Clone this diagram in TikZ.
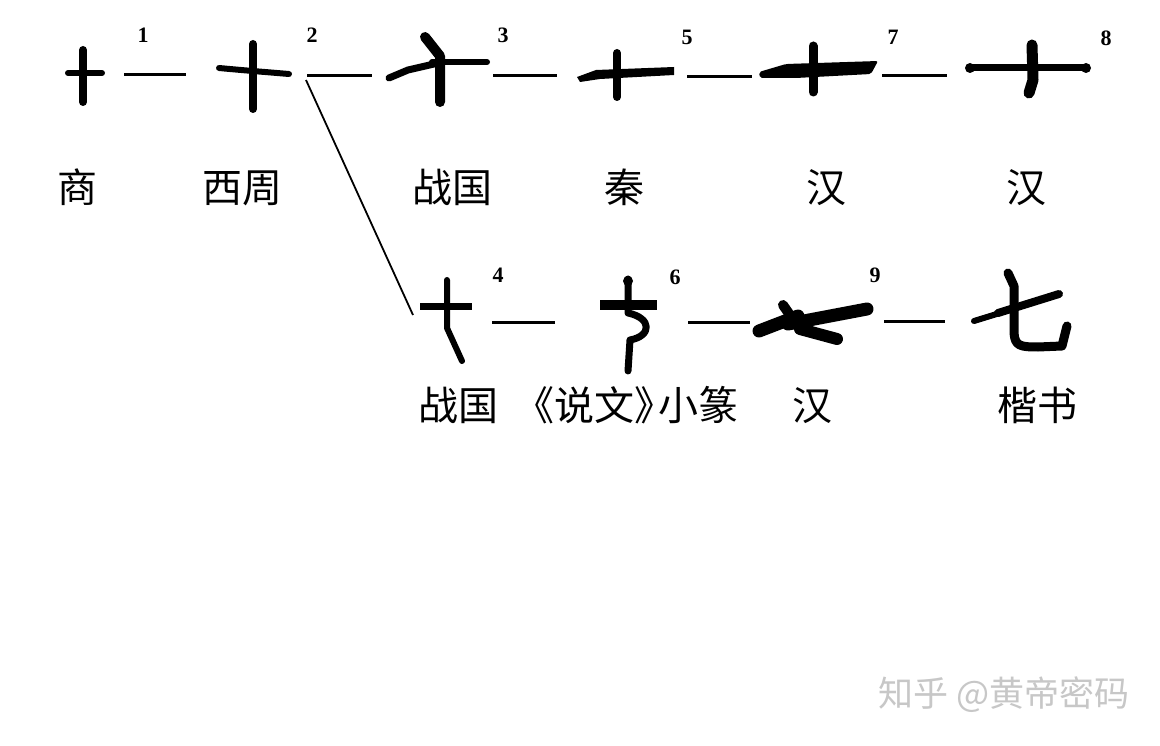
\documentclass[tikz,border=0pt]{standalone}
\usepackage{fontspec}
\setmainfont{Liberation Serif}
\newfontfamily\cjk{Noto Sans CJK SC}
\begin{document}
\begin{tikzpicture}[x=1pt,y=-1pt,
  brush/.style={line width=7pt,line cap=round,line join=round},
  dashline/.style={line width=3pt},
  branch/.style={line width=1.8pt},
  lbl/.style={font=\cjk\fontsize{40}{44}\selectfont,anchor=base,inner sep=0pt},
  num/.style={font=\fontsize{22}{24}\selectfont\bfseries,anchor=base,inner sep=0pt},
  wm/.style={font=\cjk\fontsize{35}{38}\selectfont,anchor=west,inner sep=0pt,text=black!22}]
\useasboundingbox (0,0) rectangle (1160,746);
\fill[white] (0,0) rectangle (1160,746);

% ---- row 1 glyphs ----
% 1 Shang
\draw[brush,line width=8pt] (83,50) -- (83,102);
\draw[brush,line width=6pt] (68,73) -- (102,73);
% 2 Western Zhou
\draw[brush,line width=8pt] (253,44) -- (253,109);
\draw[brush,line width=6pt] (219,68) .. controls (240,70) and (265,72) .. (289,74);
% 3 Warring States
\draw[brush,line width=7pt] (389,78) -- (408,70) -- (434,64);
\draw[brush,line width=6pt] (432,62) -- (487,62);
\draw[brush,line width=10pt] (425,37) -- (440,56) -- (440,102);
% 5 Qin
\fill (577,77) -- (596,70) -- (674,67) -- (674,75) -- (600,79) -- (580,82) -- cycle;
\draw[brush,line width=8pt] (617,53) -- (617,97);
% 7 Han
\fill[rounded corners=2pt] (759,72) -- (786,64) -- (878,61) -- (871,74) -- (796,78) -- (760,78) -- cycle;
\draw[brush,line width=9pt] (813,46) -- (813,92);
% 8 Han
\draw[brush,line width=7pt] (970,68) -- (1086,68);
\fill (970,68) circle (5);
\fill (1086,68) circle (5);
\draw[brush,line width=11pt] (1032,45) -- (1033,80) -- (1029,93);

% ---- row 2 glyphs ----
% 4 Warring States
\draw[brush,line width=7pt,line cap=butt] (420,307) -- (472,307);
\draw[brush,line width=6pt] (447,280) -- (447,328) -- (462,361);
% 6 Shuowen
\draw[line width=10pt] (600,305) -- (657,305);
\draw[brush,line width=7pt] (628,279) -- (628,313) .. controls (652,318) and (652,336) .. (630,340) -- (628,371);
\fill (628,281) circle (5);
% 9 Han
\draw[brush,line width=13pt] (759,331) -- (798,316);
\draw[brush,line width=10pt] (783,305) -- (792,318);
\draw[brush,line width=13pt] (788,324) -- (867,309);
\draw[brush,line width=12pt] (800,329) -- (837,339);
% kaishu
\draw[brush,line width=6pt] (974,321) -- (1000,313);
\draw[brush,line width=8pt] (998,313) -- (1059,294);
\draw[brush,line width=9pt] (1008,273) -- (1014,286) -- (1014,333) .. controls (1015,346) and (1020,347) .. (1038,347) -- (1062,346) -- (1067,326);

% ---- connectors ----
\coordinate (d1a) at (124,75);  \coordinate (d1b) at (186,75);
\coordinate (d2a) at (307,76);  \coordinate (d2b) at (372,76);
\coordinate (d3a) at (493,76);  \coordinate (d3b) at (557,76);
\coordinate (d5a) at (687,77);  \coordinate (d5b) at (752,77);
\coordinate (d7a) at (882,76);  \coordinate (d7b) at (947,76);
\coordinate (d4a) at (492,322); \coordinate (d4b) at (555,322);
\coordinate (d6a) at (688,322); \coordinate (d6b) at (750,322);
\coordinate (d9a) at (884,321); \coordinate (d9b) at (945,321);
\coordinate (bra) at (306,80);  \coordinate (brb) at (413,315);
\foreach \a/\b in {d1a/d1b,d2a/d2b,d3a/d3b,d5a/d5b,d7a/d7b,d4a/d4b,d6a/d6b,d9a/d9b}
  \draw[dashline] (\a) -- (\b);
\draw[branch] (bra) -- (brb);

% ---- numbers ----
\node[num] (n1) at (143,43) {1};
\node[num] (n2) at (312,43) {2};
\node[num] (n3) at (503,43) {3};
\node[num] (n5) at (687,45) {5};
\node[num] (n7) at (893,45) {7};
\node[num] (n8) at (1106,46) {8};
\node[num] (n4) at (498,283) {4};
\node[num] (n6) at (675,285) {6};
\node[num] (n9) at (875,283) {9};

% ---- labels ----
\node[lbl] (l1) at (77,203) {商};
\node[lbl] (l2) at (242,203) {西周};
\node[lbl] (l3) at (452,203) {战国};
\node[lbl] (l5) at (624,203) {秦};
\node[lbl] (l7) at (826,203) {汉};
\node[lbl] (l8) at (1026,203) {汉};
\node[lbl] (l4) at (458,420) {战国};
\node[lbl] (l6) at (634,420) {\kern-0.4em《说文》\kern-0.4em小篆};
\node[lbl] (l9) at (812,420) {汉};
\node[lbl] (l10) at (1037,420) {楷书};

% ---- watermark ----
\node[wm] (wm) at (878,695) {知乎 @黄帝密码};
\end{tikzpicture}
\end{document}
